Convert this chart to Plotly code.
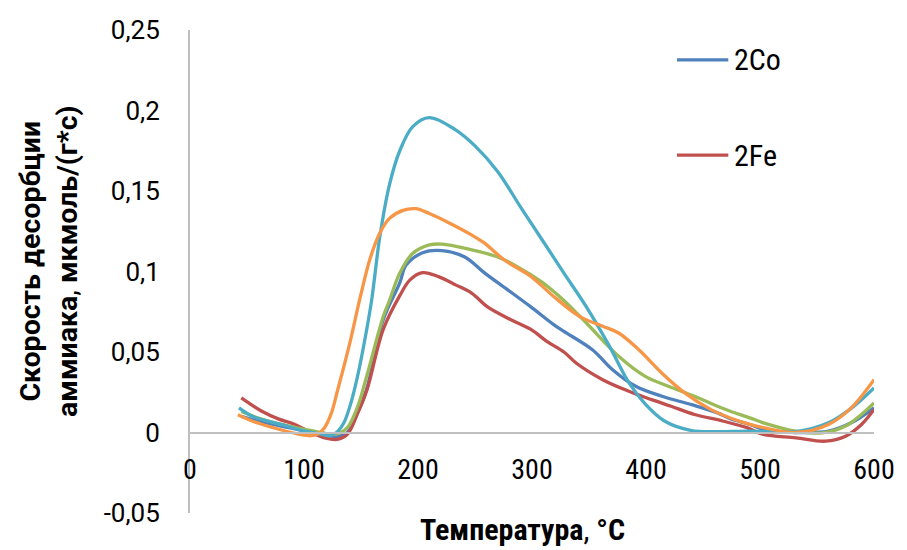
import plotly.graph_objects as go

# ---- data (temperature, °C ; desorption rate, mmol/(g*s)) ----
t_2co = [45, 60, 80, 100, 115, 128, 138, 147, 155, 169.5, 184, 189.6, 204, 221, 241, 258.6, 278.7, 299, 319, 328, 353, 370.7, 391, 414, 440, 462.7, 474, 491, 503, 531.6, 560, 580, 600]
v_2co = [0.010, 0.007, 0.004, 0.001, -0.001, -0.0025, 0.0, 0.012, 0.027, 0.070, 0.093, 0.104, 0.1117, 0.113, 0.109, 0.099, 0.0886, 0.078, 0.067, 0.0628, 0.0514, 0.039, 0.0287, 0.0225, 0.0173, 0.0122, 0.0085, 0.005, 0.002, 0.0, 0.0008, 0.006, 0.0153]

t_2fe = [45, 63, 78, 92, 106, 118, 129, 138, 147, 155, 169.5, 184, 193, 204, 218, 233, 247, 261, 281.6, 299, 313, 328, 339, 362, 385, 405, 422, 442.5, 468, 488.5, 503, 531.6, 557.5, 575, 589, 600]
v_2fe = [0.0215, 0.0132, 0.0083, 0.005, 0.0, -0.0033, -0.0043, -0.0012, 0.012, 0.026, 0.064, 0.085, 0.0948, 0.0993, 0.0968, 0.0917, 0.0866, 0.078, 0.070, 0.064, 0.0566, 0.050, 0.043, 0.0328, 0.0256, 0.0204, 0.0163, 0.0112, 0.007, 0.003, -0.0012, -0.0033, -0.0054, -0.0023, 0.005, 0.0143]

t_s3 = [45, 60, 80, 100, 115, 128, 138, 147, 155, 169.5, 175, 184, 195, 210, 221, 244, 270, 287, 307.5, 319, 328, 347.7, 376.5, 399, 419.6, 442.5, 462.7, 474, 491, 503, 531.6, 554.6, 575, 600]
v_s3 = [0.013, 0.009, 0.005, 0.002, 0.0, -0.001, 0.003, 0.016, 0.035, 0.072, 0.082, 0.099, 0.111, 0.1165, 0.117, 0.114, 0.109, 0.103, 0.094, 0.0876, 0.082, 0.068, 0.047, 0.035, 0.0287, 0.0225, 0.0163, 0.0132, 0.0091, 0.006, 0.0008, -0.0002, 0.004, 0.0184]

t_s4 = [43, 55, 80, 100, 115, 123, 130, 135, 141, 147, 155, 159.5, 166.6, 175, 184, 195.4, 209.8, 233, 250, 270, 290, 310, 328, 347.7, 368, 385, 399, 416.6, 440, 460, 491, 531.6, 560, 580, 600]
v_s4 = [0.0153, 0.010, 0.005, 0.001, -0.001, -0.002, 0.001, 0.006, 0.018, 0.035, 0.064, 0.083, 0.122, 0.154, 0.175, 0.190, 0.1956, 0.188, 0.178, 0.162, 0.140, 0.1185, 0.099, 0.078, 0.0535, 0.031, 0.018, 0.007, 0.0012, 0.0005, 0.0008, 0.0006, 0.006, 0.015, 0.0277]

t_s5 = [42, 55, 78, 95, 106, 112, 118, 124, 129, 135, 141, 149.5, 158, 166.6, 175, 186.8, 198, 210, 227.8, 247, 258.6, 276, 299, 319, 342, 362, 376, 393.7, 413.8, 434, 457, 474, 491, 503, 531.6, 560, 580, 600]
v_s5 = [0.011, 0.007, 0.002, -0.001, -0.002, -0.001, 0.003, 0.012, 0.025, 0.041, 0.058, 0.0845, 0.108, 0.124, 0.133, 0.138, 0.139, 0.136, 0.130, 0.1227, 0.1175, 0.107, 0.097, 0.0845, 0.072, 0.066, 0.0618, 0.0514, 0.037, 0.0246, 0.0142, 0.009, 0.005, 0.003, 0.0, 0.005, 0.0153, 0.0328]

series = [
    ("2Co", t_2co, v_2co, "#4F81BD"),
    ("2Fe", t_2fe, v_2fe, "#C0504D"),
    ("Ряд3", t_s3, v_s3, "#9BBB59"),
    ("Ряд4", t_s4, v_s4, "#4BACC6"),
    ("Ряд5", t_s5, v_s5, "#F79646"),
]
legend_names = ["2Co", "2Fe"]

x_ticks = [0, 100, 200, 300, 400, 500, 600]
y_ticks = [-0.05, 0, 0.05, 0.1, 0.15, 0.2, 0.25]
y_tick_text = ["-0,05", "0", "0,05", "0,1", "0,15", "0,2", "0,25"]

NARROW = "Liberation Sans Narrow, Roboto Condensed, Arial Narrow, sans-serif"

fig = go.Figure()
for name, t, v, color in series:
    fig.add_trace(go.Scatter(x=t, y=v, name=name, mode="lines",
                             line=dict(color=color, width=3.3, shape="spline", smoothing=1.0),
                             showlegend=False, hoverinfo="skip"))

# custom legend (long line samples like the original)
shapes = []
annotations = []
leg_y = [0.938, 0.741]
for i, nm in enumerate(legend_names):
    col = series[i][3]
    shapes.append(dict(type="line", xref="paper", yref="paper", x0=0.712, x1=0.787,
                       y0=leg_y[i], y1=leg_y[i], line=dict(color=col, width=3.3)))
    annotations.append(dict(text=nm, xref="paper", yref="paper", x=0.793, y=leg_y[i],
                            xanchor="left", yanchor="middle", showarrow=False,
                            font=dict(family=NARROW, size=30, color="black")))

annotations += [
    dict(text="<b>Скорость десорбции</b><br><b>аммиака</b>, <b>мкмоль/(г*с)</b>",
         xref="paper", yref="paper", x=-0.206, y=0.52, xanchor="center", yanchor="middle",
         textangle=-90, showarrow=False, font=dict(family="Roboto, sans-serif", size=28.5)),
    dict(text="<b>Температура</b>, <b>°C</b>",
         xref="paper", yref="paper", x=0.486, y=-0.035, xanchor="center", yanchor="middle",
         showarrow=False, font=dict(family=NARROW, size=30)),
]

fig.update_layout(
    width=907, height=550,
    margin=dict(l=190, r=21, t=30, b=37),
    plot_bgcolor="white", paper_bgcolor="white",
    font=dict(family="Roboto, sans-serif", color="black"),
    showlegend=False,
    xaxis=dict(range=[0, 600], tickvals=x_ticks, ticktext=[str(v) for v in x_ticks],
               showgrid=False, zeroline=False, showline=True, linecolor="#BFBFBF", linewidth=2,
               anchor="free", position=0.05 / 0.30, ticks="", ticklabelstandoff=12,
               tickfont=dict(family=NARROW, size=28)),
    yaxis=dict(range=[-0.05, 0.25], tickvals=y_ticks, ticktext=y_tick_text,
               showgrid=False, zeroline=False, showline=True, linecolor="#BFBFBF", linewidth=2,
               ticks="", ticklabelstandoff=23, tickfont=dict(family="Roboto, sans-serif", size=26)),
    shapes=shapes,
    annotations=annotations,
)

fig.write_html("out.html")
